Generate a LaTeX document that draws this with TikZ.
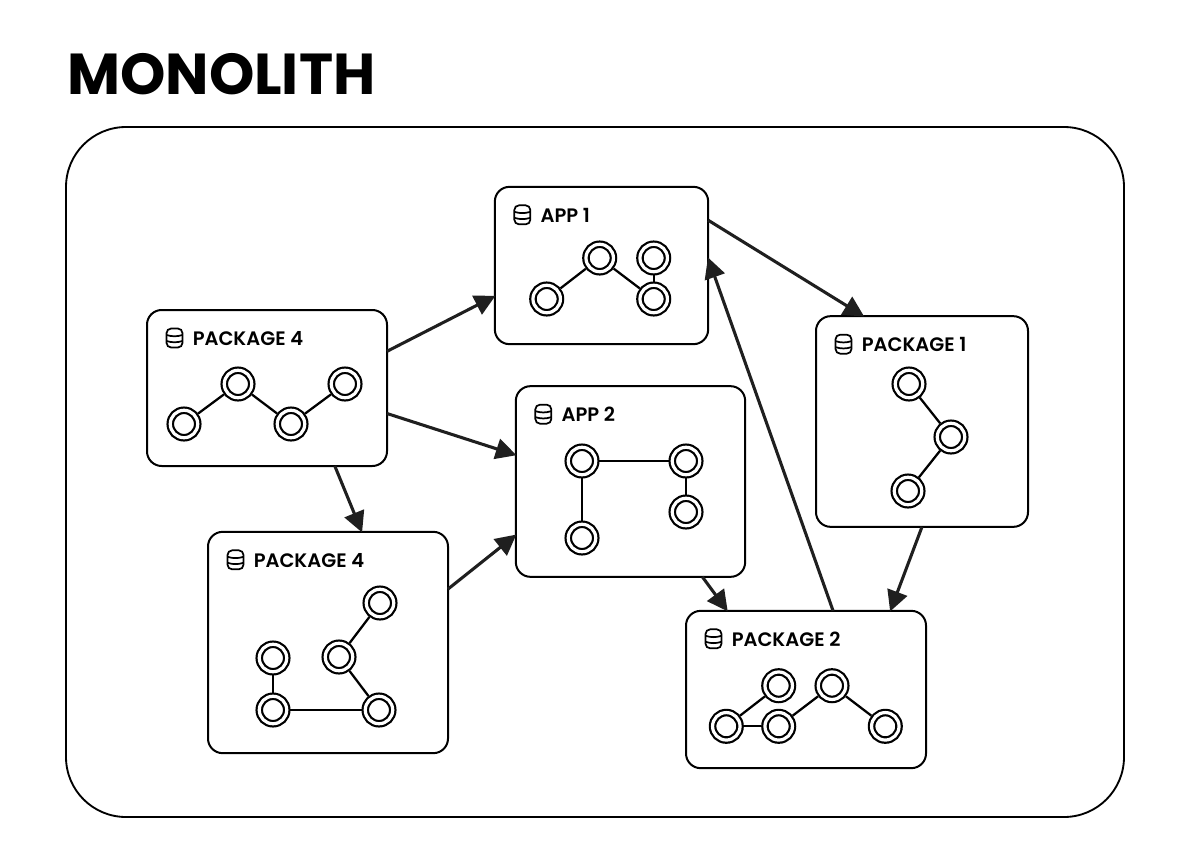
\documentclass[tikz,border=0pt]{standalone}
\usepackage{fontspec}
\setmainfont{Poppins}[BoldFont={Poppins SemiBold}]
\newfontfamily\titlefont{Poppins Bold}
\usetikzlibrary{arrows.meta}
\tikzset{
  boxnode/.style={draw,line width=1.5pt,rounded corners=11pt,fill=white,inner sep=0pt,outer sep=0pt},
  ringnode/.style={circle,draw,line width=1.65pt,double,double distance=2.4pt,fill=white,inner sep=0pt,minimum size=20.6pt,outer sep=2.8pt},
  linkline/.style={line width=1.7pt},
  flowarrow/.style={-{Triangle[length=15.5pt,width=15.5pt]},line width=2.3pt,draw=black!88,shorten >=-0.5pt},
  boxtitle/.style={anchor=west,inner sep=0pt,font=\fontsize{14.6}{16}\selectfont\bfseries},
  pics/dbicon/.style={code={
    \draw[line width=1.3pt,rounded corners=3.5pt](-8,-9.5)rectangle(8,9.5);
    \draw[line width=1.3pt](-8,-3)to[bend right=16](8,-3);
    \draw[line width=1.3pt](-8,3)to[bend right=16](8,3);
  }}
}
\begin{document}
\begin{tikzpicture}[>=latex,x=0.75pt,y=-0.75pt]
  \useasboundingbox(0,0)rectangle(1200,857);
  \node[anchor=west,inner sep=0pt,font=\fontsize{43.3}{50}\selectfont\titlefont](title)at(67,74){MONOLITH};
  \node[draw,line width=1.4pt,rounded corners=45pt,minimum width=793.5pt,minimum height=517.5pt,inner sep=0pt](monolith)at(595,472){};
  % boxes
  \foreach \name/\x/\y/\w/\h in {
    packagefour/267/388/180/117,
    packagefourb/328/642.5/180/166,
    appone/601.5/265.5/160/118,
    apptwo/630.5/481.5/172/143,
    packageone/922/421.5/159/158,
    packagetwo/806/689.5/180/118}
  {
    \node[boxnode,minimum width=\w pt,minimum height=\h pt](\name)at(\x,\y){};
  }
  % arrows
  \draw[flowarrow](packagefour.17.1)--(appone.196.5);
  \draw[flowarrow](packagefour.-12.7)--(apptwo.167.9);
  \draw[flowarrow](packagefour.-49.8)--(packagefourb.73.8);
  \draw[flowarrow](packagefourb.24.8)--(apptwo.205.4);
  \draw[flowarrow](apptwo.-53.2)--(packagetwo.135.2);
  \draw[flowarrow](appone.23.6)--(packageone.119.2);
  \draw[flowarrow](packageone.south)--(packagetwo.43.4);
  \draw[flowarrow](packagetwo.71)--(appone.4.6);
  % titles
  \foreach \name/\nodetext in {
    packagefour/PACKAGE 4,
    packagefourb/PACKAGE 4,
    appone/APP 1,
    apptwo/APP 2,
    packageone/PACKAGE 1,
    packagetwo/PACKAGE 2}
  {
    \pic at ([shift={(27.5,28)}]\name.north west){dbicon};
    \node[boxtitle](\name title)at([shift={(45.5,28.5)}]\name.north west){\nodetext};
  }
  % rings
  \foreach \name/\x/\y in {
    aa/546.7/299,ab/599.7/258,ac/653.7/258,ad/653.7/299,
    ba/184/424,bb/238/384,bc/291/424,bd/345/384,
    ca/582/461,cb/686/461,cc/686/512,cd/582/538,
    da/909/384,db/951/437,dc/908/491,
    ea/380/603,eb/339/657,ec/379/710,ed/273/710,ee/273/658,
    fa/726.3/726.3,fb/778.7/685.7,fc/778.7/726.3,fd/832/685.7,fe/885.3/726.3}
  {
    \node[ringnode](\name)at(\x,\y){};
  }
  \foreach \a/\b in {aa/ab,ab/ad,ac/ad,ba/bb,bb/bc,bc/bd,ca/cb,ca/cd,cb/cc,da/db,db/dc,ea/eb,eb/ec,ec/ed,ed/ee,fa/fb,fa/fc,fc/fd,fd/fe}
  {
    \draw[linkline](\a)--(\b);
  }
\end{tikzpicture}
\end{document}
